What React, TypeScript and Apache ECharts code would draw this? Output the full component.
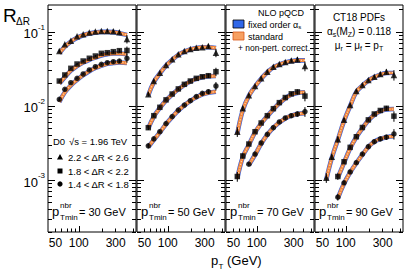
import React, { useEffect, useRef } from 'react';
import * as echarts from 'echarts';

const FONT = 'Liberation Sans, Arial, Helvetica, sans-serif';

// pT bin centres (GeV)
const PT = [56, 66, 79, 95, 114, 137, 164, 196, 234, 280, 335, 420];

const PANEL_NBR = ['30', '50', '70', '90'];
const DR_BINS = ['2.2 < ΔR < 2.6', '1.8 < ΔR < 2.2', '1.4 < ΔR < 1.8'];
const X_LABELS = [50, 100, 300];
const X_MAJOR = [100];
const X_MINOR = [50, 60, 70, 80, 90, 200, 300, 400, 500];
const Y_LABELS = [0.1, 0.01, 0.001];

// ---- data: pTmin_nbr = 30 GeV
const D30_TRI = [0.055, 0.068, 0.076, 0.087, 0.093, 0.098, 0.101, 0.103, 0.103, 0.102, 0.099, 0.080];
const D30_SQ = [0.0217, 0.0262, 0.0322, 0.0368, 0.0404, 0.044, 0.0472, 0.0513, 0.0523, 0.054, 0.0557, 0.056];
const D30_CIR = [0.0123, 0.0168, 0.0206, 0.0236, 0.027, 0.0306, 0.0339, 0.0365, 0.0384, 0.0396, 0.0404, 0.044];
// ---- 50 GeV
const D50_TRI = [0.0144, 0.0217, 0.0281, 0.0357, 0.0426, 0.0498, 0.0551, 0.0587, 0.0611, 0.0619, 0.0644, 0.0523];
const D50_SQ = [0.0051, 0.0074, 0.0096, 0.0121, 0.0145, 0.017, 0.0196, 0.0217, 0.0236, 0.0248, 0.0256, 0.029];
const D50_CIR = [0.0029, 0.0036, 0.0045, 0.0058, 0.0072, 0.0088, 0.0103, 0.0118, 0.0134, 0.0148, 0.0156, 0.0186];
// ---- 70 GeV
const D70_TRI = [0.0045, 0.0093, 0.014, 0.0186, 0.0236, 0.029, 0.0339, 0.0368, 0.0392, 0.0411, 0.0424, 0.0346];
const D70_SQ = [0.00112, 0.00212, 0.00307, 0.0045, 0.0059, 0.0074, 0.0092, 0.0111, 0.013, 0.0146, 0.0155, 0.0136];
const D70_CIR = [null, null, 0.00164, 0.00225, 0.00317, 0.00414, 0.0051, 0.0061, 0.0069, 0.0074, 0.0078, 0.0084];
// ---- 90 GeV
const D90_TRI = [0.00108, 0.00207, 0.00356, 0.0065, 0.0103, 0.0159, 0.0192, 0.0224, 0.0248, 0.027, 0.029, 0.0262];
const D90_SQ = [null, null, 0.00112, 0.00177, 0.00277, 0.00385, 0.00513, 0.0065, 0.0078, 0.0087, 0.0093, 0.0073];
const D90_CIR = [null, null, 0.00059, 0.00092, 0.00129, 0.00172, 0.00225, 0.00283, 0.0033, 0.0036, 0.0038, 0.0042];

// relative total uncertainties of the data points
const ERR30 = [0.05, 0.04, 0.03, 0.03, 0.03, 0.03, 0.03, 0.03, 0.04, 0.05, 0.06, 0.13];
const ERR50 = [0.07, 0.05, 0.04, 0.03, 0.03, 0.03, 0.03, 0.04, 0.04, 0.05, 0.07, 0.13];
const ERR70 = [0.15, 0.08, 0.05, 0.04, 0.04, 0.04, 0.04, 0.04, 0.05, 0.06, 0.08, 0.15];
const ERR90 = [0.15, 0.1, 0.1, 0.06, 0.05, 0.04, 0.04, 0.04, 0.05, 0.06, 0.08, 0.16];

// NLO pQCD predictions (central)
const T30_TRI = [0.051, 0.063, 0.074, 0.083, 0.09, 0.095, 0.098, 0.1, 0.1, 0.099, 0.096, 0.091];
const T30_SQ = [0.02, 0.0245, 0.03, 0.0345, 0.0385, 0.042, 0.045, 0.048, 0.05, 0.051, 0.051, 0.05];
const T30_CIR = [0.0113, 0.0153, 0.019, 0.0225, 0.026, 0.0295, 0.0325, 0.035, 0.037, 0.038, 0.0385, 0.038];
const T50_TRI = [0.014, 0.021, 0.0275, 0.035, 0.042, 0.049, 0.054, 0.058, 0.0605, 0.062, 0.062, 0.0605];
const T50_SQ = [0.005, 0.0072, 0.0094, 0.0119, 0.0143, 0.0168, 0.0193, 0.0214, 0.0232, 0.0245, 0.0252, 0.0254];
const T50_CIR = [0.0028, 0.0035, 0.0044, 0.0057, 0.0071, 0.0087, 0.0102, 0.0117, 0.0131, 0.0143, 0.0151, 0.0156];
const T70_TRI = [0.0042, 0.0088, 0.0137, 0.0183, 0.0233, 0.0285, 0.0332, 0.0362, 0.0386, 0.0403, 0.0412, 0.0412];
const T70_SQ = [0.00105, 0.00205, 0.003, 0.0044, 0.0058, 0.0073, 0.009, 0.0109, 0.0127, 0.0142, 0.015, 0.0153];
const T70_CIR = [null, null, 0.0016, 0.0022, 0.0031, 0.0041, 0.0051, 0.006, 0.0068, 0.0074, 0.0078, 0.008];
const T90_TRI = [0.00102, 0.002, 0.0035, 0.0063, 0.01, 0.0155, 0.0188, 0.022, 0.0245, 0.0265, 0.0278, 0.0282];
const T90_SQ = [null, null, 0.00108, 0.00172, 0.0027, 0.0038, 0.005, 0.0064, 0.0076, 0.0085, 0.009, 0.0091];
const T90_CIR = [null, null, 0.00057, 0.0009, 0.00127, 0.0017, 0.0022, 0.0028, 0.0033, 0.0036, 0.0038, 0.0039];

const PANELS = [
  { data: [D30_TRI, D30_SQ, D30_CIR], th: [T30_TRI, T30_SQ, T30_CIR], err: ERR30 },
  { data: [D50_TRI, D50_SQ, D50_CIR], th: [T50_TRI, T50_SQ, T50_CIR], err: ERR50 },
  { data: [D70_TRI, D70_SQ, D70_CIR], th: [T70_TRI, T70_SQ, T70_CIR], err: ERR70 },
  { data: [D90_TRI, D90_SQ, D90_CIR], th: [T90_TRI, T90_SQ, T90_CIR], err: ERR90 },
];

const Y_MINOR: number[] = [];
for (let e = -4; e <= -1; e++) {
  for (let m = 2; m <= 9; m++) {
    const v = +(m * Math.pow(10, e)).toPrecision(3);
    if (v >= 2e-4 && v <= 0.23) Y_MINOR.push(v);
  }
}

const GRID_LEFT = [48, 137, 226, 315];
const GRID_W = 88;
const GRID_TOP = 5;
const GRID_H = 227;
const SYMBOLS = ['triangle', 'rect', 'circle'];
const SYMBOL_SIZE = [6.5, 5.5, 5.5];

function buildOption() {
  const grid = GRID_LEFT.map((l) => ({
    left: l, top: GRID_TOP, width: GRID_W, height: GRID_H,
    show: true, borderColor: '#000', borderWidth: 1, backgroundColor: 'transparent',
  }));

  const xAxis: any[] = [];
  const yAxis: any[] = [];
  GRID_LEFT.forEach((_, i) => {
    [true, false].forEach((major) => {
      xAxis.push({
        type: 'log', logBase: 10, gridIndex: i, min: 40, max: 550, position: 'bottom',
        axisLine: { show: false }, splitLine: { show: false },
        axisTick: { show: true, inside: true, length: major ? 6 : 3.5, customValues: major ? X_MAJOR : X_MINOR, lineStyle: { color: '#000', width: 1 } },
        axisLabel: major
          ? { customValues: X_LABELS, fontSize: 12, color: '#000', margin: 5, fontFamily: FONT }
          : { show: false },
      });
    });
    ['left', 'right'].forEach((pos) => {
      [true, false].forEach((major) => {
        const showLab = major && pos === 'left' && i === 0;
        yAxis.push({
          type: 'log', logBase: 10, gridIndex: i, min: 2e-4, max: 0.23, position: pos,
          axisLine: { show: false }, splitLine: { show: false },
          axisTick: { show: true, inside: true, length: major ? 7 : 4, customValues: major ? Y_LABELS : Y_MINOR, lineStyle: { color: '#000', width: 1 } },
          axisLabel: showLab
            ? {
                customValues: Y_LABELS, margin: 3, fontFamily: FONT, color: '#000',
                formatter: (v: number) => `{b|10}{s|${Math.round(Math.log10(v))}}`,
                rich: {
                  b: { fontSize: 13, lineHeight: 17, verticalAlign: 'bottom', color: '#000', fontFamily: FONT },
                  s: { fontSize: 8, lineHeight: 9, verticalAlign: 'top', color: '#000', fontFamily: FONT },
                },
              }
            : { show: false },
        });
      });
    });
  });

  const series: any[] = [];
  PANELS.forEach((pn, i) => {
    const xi = 2 * i;
    const yi = 4 * i;
    pn.th.forEach((th) => {
      const pts = PT.map((p, k) => [p, th[k]]).filter((d) => d[1] != null);
      const base = { type: 'line', xAxisIndex: xi, yAxisIndex: yi, data: pts, smooth: 0.4, showSymbol: false, silent: true };
      series.push({ ...base, z: 2, lineStyle: { color: '#3b63dc', width: 4.6 } });
      series.push({ ...base, z: 3, lineStyle: { color: '#f4873c', width: 3.4 } });
      series.push({ ...base, z: 4, lineStyle: { color: '#fcd2aa', width: 1.2, type: [1.2, 1.6] } });
    });
    pn.data.forEach((d, j) => {
      const pts = PT.map((p, k) => [p, d[k], pn.err[k]]).filter((x) => x[1] != null) as number[][];
      series.push({
        type: 'custom', xAxisIndex: xi, yAxisIndex: yi, z: 5, silent: true,
        data: pts.map(([p, v, e]) => [p, v * (1 - e), v * (1 + e)]),
        encode: { x: 0, y: [1, 2] },
        renderItem: (_params: any, api: any) => {
          const a = api.coord([api.value(0), api.value(1)]);
          const b = api.coord([api.value(0), api.value(2)]);
          return { type: 'line', shape: { x1: a[0], y1: a[1], x2: b[0], y2: b[1] }, style: { stroke: '#000', lineWidth: 1 } };
        },
      });
      series.push({
        type: 'scatter', xAxisIndex: xi, yAxisIndex: yi, z: 6, silent: true,
        data: pts.map(([p, v]) => [p, v]),
        symbol: SYMBOLS[j], symbolSize: SYMBOL_SIZE[j], itemStyle: { color: '#000' },
      });
    });
  });

  const txt = (text: string, x: number, y: number, fontSize: number, align = 'left', extra: any = {}) => ({
    type: 'text', x, y, z: 100,
    style: { text, fill: '#000', fontSize, fontFamily: FONT, align, verticalAlign: 'middle', ...extra },
  });
  const subRich = (fs: number) => ({
    n: { fontSize: fs, fontFamily: FONT, fill: '#000', lineHeight: fs + 1, verticalAlign: 'top' },
    sub: { fontSize: fs - 3, fontFamily: FONT, fill: '#000', lineHeight: fs - 3, padding: [6, 0, 0, 0], verticalAlign: 'bottom' },
  });

  const graphic: any[] = [
    txt('R', 3, 15, 19),
    txt('ΔR', 16, 21, 10),
    txt('p', 211, 260, 13),
    txt('T', 218.5, 266, 8),
    txt('(GeV)', 227, 260, 13),
    txt('D0', 53, 141, 9.5),
    txt('√s = 1.96 TeV', 69, 141, 9.5),
    { type: 'polygon', z: 100, shape: { points: [[60, 154], [63, 159.5], [57, 159.5]] }, style: { fill: '#000' } },
    { type: 'rect', z: 100, shape: { x: 57.5, y: 168.5, width: 5, height: 5 }, style: { fill: '#000' } },
    { type: 'circle', z: 100, shape: { cx: 60, cy: 184, r: 2.6 }, style: { fill: '#000' } },
    txt(DR_BINS[0], 68, 157, 9.5),
    txt(DR_BINS[1], 68, 171, 9.5),
    txt(DR_BINS[2], 68, 184, 9.5),
    // panel 3 legend
    txt('NLO pQCD', 281, 13, 9, 'center'),
    { type: 'rect', z: 100, shape: { x: 233, y: 20, width: 11, height: 8 }, style: { fill: '#2f66e8', stroke: '#000', lineWidth: 0.8 } },
    { type: 'text', x: 248, y: 25, z: 100, style: { text: '{n|fixed order α}{sub|s}', rich: subRich(9), verticalAlign: 'middle' } },
    { type: 'rect', z: 100, shape: { x: 233, y: 32, width: 11, height: 8 }, style: { fill: '#f7a061', stroke: '#d9591a', lineWidth: 0.8 } },
    txt('standard', 248, 36.5, 9),
    txt('+ non-pert. correct.', 238, 48, 8.5),
    // panel 4 text
    txt('CT18 PDFs', 359, 17, 10, 'center'),
    { type: 'text', x: 359, y: 32, z: 100, style: { text: '{n|α}{sub|s}{n|(M}{sub|Z}{n|) = 0.118}', rich: subRich(10), align: 'center', verticalAlign: 'middle' } },
    { type: 'text', x: 359, y: 46, z: 100, style: { text: '{n|μ}{sub|r}{n| = μ}{sub|f}{n| = p}{sub|T}', rich: subRich(10), align: 'center', verticalAlign: 'middle' } },
  ];
  GRID_LEFT.forEach((l, i) => {
    graphic.push(txt('p', l + 4, 211, 13));
    graphic.push(txt('nbr', l + 12, 205.5, 8));
    graphic.push(txt('Tmin', l + 12, 217.5, 8));
    graphic.push(txt(`= ${PANEL_NBR[i]} GeV`, l + 31, 212, 11));
  });

  return { animation: false, backgroundColor: '#fff', grid, xAxis, yAxis, series, graphic };
}

export default function App() {
  const ref = useRef<HTMLDivElement>(null);
  useEffect(() => {
    if (!ref.current) return;
    const chart = echarts.init(ref.current, undefined, { renderer: 'svg' });
    chart.setOption(buildOption() as any);
    return () => chart.dispose();
  }, []);
  return <div ref={ref} style={{ position: 'absolute', left: 0, top: 0, width: 407, height: 276 }} />;
}
